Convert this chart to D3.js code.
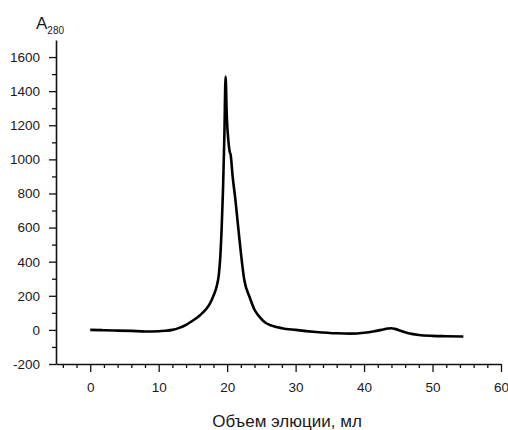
<!DOCTYPE html>
<html>
<head>
<meta charset="utf-8">
<script src="https://cdn.jsdelivr.net/npm/d3@7"></script>
<style>
  body { margin: 0; background: #fff; }
  text { font-family: "Liberation Sans", Arial, sans-serif; fill: #1a1a1a; }
</style>
</head>
<body>
<div id="chart"></div>
<script>
// elution volume, ml
var volume = [0, 2, 4, 6, 8, 10, 11, 12, 13, 14, 15, 16, 17, 17.5, 18, 18.5, 18.8, 19.0, 19.2, 19.4, 19.6, 19.77,
    19.95, 20.2, 20.4, 20.5, 20.8, 21.2, 21.8, 22.5, 23.3, 24.0, 24.7, 25.5, 26.5, 28, 30, 33, 36, 38, 40,
    41.5, 42.5, 43.5, 44, 44.5, 45.5, 46.5, 48, 50, 52, 54.5];
// absorbance A280
var absorb = [0, -2, -4, -6, -9, -8, -5, 0, 12, 30, 55, 85, 125, 155, 200, 260, 330, 430, 600, 830, 1150, 1485,
    1250, 1100, 1040, 1030, 900, 765, 529, 294, 190, 118, 78, 45, 25, 10, 0, -12, -20, -22, -17,
    -8, 0, 8, 10, 6, -8, -20, -30, -35, -37, -39];

var xTicks = [0, 10, 20, 30, 40, 50, 60];
var yTicks = [-200, 0, 200, 400, 600, 800, 1000, 1200, 1400, 1600];
var xTitle = "Объем элюции, мл";

var W = 508, H = 430;
var margin = {top: 40, right: 7, bottom: 66, left: 56};

var svg = d3.select("#chart").append("svg")
    .attr("width", W)
    .attr("height", H);

var x = d3.scaleLinear().domain([-5, 60]).range([margin.left, W - margin.right]);
var y = d3.scaleLinear().domain([-200, 1700]).range([H - margin.bottom, margin.top]);

var fmt = function(d) { return String(d); };

// minor ticks
var xMinor = d3.range(-4, 61, 2).filter(function(d) { return d % 10 !== 0; });
var yMinor = d3.range(-100, 1700, 200);

svg.append("g")
    .attr("transform", "translate(0," + y(-200) + ")")
    .call(d3.axisBottom(x).tickValues(xMinor).tickSize(4).tickFormat(""))
    .call(function(g) { g.select(".domain").remove(); });
svg.append("g")
    .attr("transform", "translate(" + x(-5) + ",0)")
    .call(d3.axisLeft(y).tickValues(yMinor).tickSize(4).tickFormat(""))
    .call(function(g) { g.select(".domain").remove(); });

// major axes
var xAxis = svg.append("g")
    .attr("transform", "translate(0," + y(-200) + ")")
    .call(d3.axisBottom(x).tickValues(xTicks).tickSize(8).tickPadding(10).tickSizeOuter(0).tickFormat(fmt));
xAxis.selectAll("text").attr("font-size", "13.5px");

var yAxis = svg.append("g")
    .attr("transform", "translate(" + x(-5) + ",0)")
    .call(d3.axisLeft(y).tickValues(yTicks).tickSize(7).tickPadding(9).tickSizeOuter(0).tickFormat(fmt));
yAxis.selectAll("text").attr("font-size", "13.5px");

svg.selectAll(".domain").attr("stroke", "#111").attr("stroke-width", 1.6);
svg.selectAll(".tick line").attr("stroke", "#111").attr("stroke-width", 1.3);
svg.selectAll("text").attr("font-family", "Liberation Sans, Arial, sans-serif");

// the curve
var points = volume.map(function(v, i) { return [v, absorb[i]]; });
var line = d3.line()
    .x(function(d) { return x(d[0]); })
    .y(function(d) { return y(d[1]); })
    .curve(d3.curveMonotoneX);

svg.append("path")
    .datum(points)
    .attr("d", line)
    .attr("fill", "none")
    .attr("stroke", "#000")
    .attr("stroke-width", 2.6)
    .attr("stroke-linejoin", "round");

// axis titles
var yLabel = svg.append("text")
    .attr("x", 36)
    .attr("y", 29)
    .attr("font-size", "17px");
yLabel.append("tspan").text("A");
yLabel.append("tspan").attr("font-size", "10px").attr("dy", 5).text("280");

svg.append("text")
    .attr("x", 287)
    .attr("y", 427)
    .attr("text-anchor", "middle")
    .attr("font-size", "17px")
    .text(xTitle);
</script>
</body>
</html>
